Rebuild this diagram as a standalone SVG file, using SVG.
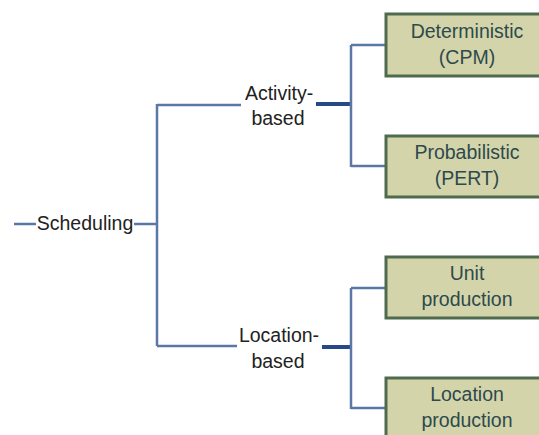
<svg xmlns="http://www.w3.org/2000/svg" width="539" height="435" viewBox="0 0 539 435">
<style>
.ln{stroke:#5b77a6;stroke-width:2.5;fill:none}
.tk{stroke:#264a86;stroke-width:4;fill:none}
.box{fill:#d4d4ab;stroke:#4f6b4f;stroke-width:3}
.lbl{font-family:"Liberation Sans",Arial,sans-serif;font-size:19.5px;fill:#222;text-anchor:middle}
.bt{font-family:"Liberation Sans",Arial,sans-serif;font-size:19.5px;fill:#2d4a4c;text-anchor:middle}
</style>
<rect width="539" height="435" fill="#fff"/>
<g id="connectors">
<path class="ln" d="M14,224 H36"/>
<path class="ln" d="M134,224 H157"/>
<path class="ln" d="M157,104 V346"/>
<path class="ln" d="M157,105 H241"/>
<path class="ln" d="M157,346 H237"/>
<path class="tk" d="M316,104 H351"/>
<path class="tk" d="M322,347 H351"/>
<path class="ln" d="M351,45 V167 M351,45 H386 M351,166 H386"/>
<path class="ln" d="M351,288 V409 M351,288 H386 M351,408 H386"/>
</g>
<g id="scheduling"><text class="lbl" x="85" y="230">Scheduling</text></g>
<g id="activity"><text class="lbl" x="279" y="100">Activity-</text><text class="lbl" x="278" y="125">based</text></g>
<g id="location"><text class="lbl" x="279" y="342">Location-</text><text class="lbl" x="278" y="368">based</text></g>
<g id="cpm"><rect class="box" x="386" y="14" width="170" height="62"/><text class="bt" x="467" y="38">Deterministic</text><text class="bt" x="467" y="64">(CPM)</text></g>
<g id="pert"><rect class="box" x="386" y="136" width="170" height="61"/><text class="bt" x="467" y="159">Probabilistic</text><text class="bt" x="467" y="185">(PERT)</text></g>
<g id="unit"><rect class="box" x="386" y="257" width="170" height="61"/><text class="bt" x="467" y="280">Unit</text><text class="bt" x="467" y="306">production</text></g>
<g id="locprod"><rect class="box" x="386" y="378" width="170" height="70"/><text class="bt" x="467" y="401">Location</text><text class="bt" x="467" y="427">production</text></g>
</svg>
